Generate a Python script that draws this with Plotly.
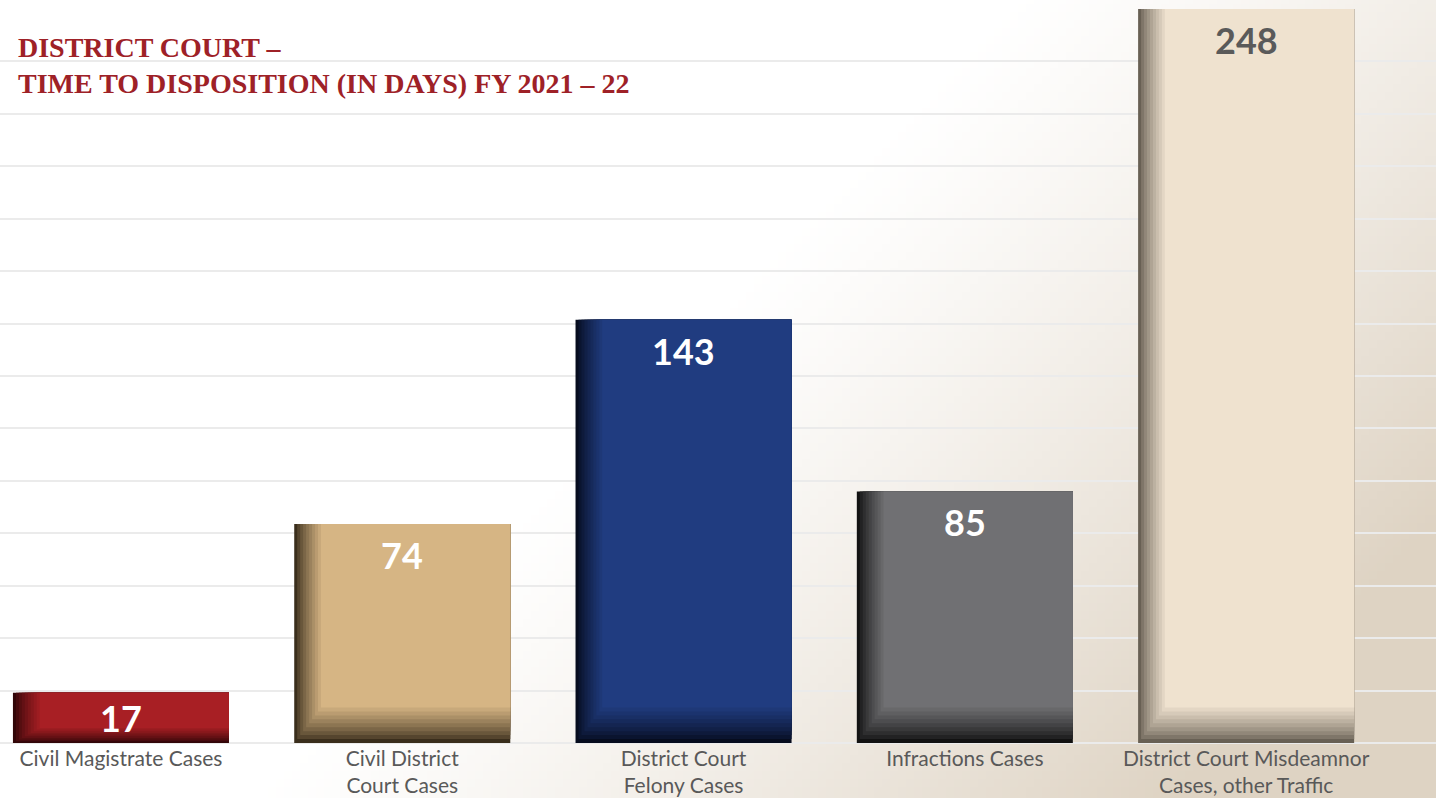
import zlib, struct, base64
import plotly.graph_objects as go

categories = ["Civil Magistrate Cases", "Civil District<br>Court Cases", "District Court<br>Felony Cases",
              "Infractions Cases", "District Court Misdeamnor<br>Cases, other Traffic"]
values = [17, 74, 143, 85, 248]
title_text = "DISTRICT COURT –<br>TIME TO DISPOSITION (IN DAYS) FY 2021 – 22"

shadow_colors = [(50, 6, 8), (58, 46, 28), (6, 12, 30), (18, 18, 18), (104, 96, 84)]
main_colors = [(168, 31, 36), (214, 181, 132), (32, 60, 128), (112, 112, 115), (239, 226, 207)]
text_colors = ["#ffffff", "#ffffff", "#ffffff", "#ffffff", "#5a5a5a"]

W, H = 1436, 798
MT, MB = 9, 55
PH = H - MT - MB
YMAX = 248
PXU = PH / YMAX


def make_png(w, h):
    rows = []
    end = (222, 211, 195)
    for j in range(h):
        row = bytearray([0])
        for i in range(w):
            u, v = i / (w - 1), j / (h - 1)
            t = (u * 0.85 + v * 0.45 - 0.6) / 0.55
            t = max(0.0, min(1.0, t))
            t = t ** 1.2
            for c in end:
                row.append(int(round(255 * (1 - t) + c * t)))
        rows.append(bytes(row))
    raw = b"".join(rows)

    def chunk(tag, data):
        return struct.pack(">I", len(data)) + tag + data + struct.pack(">I", zlib.crc32(tag + data) & 0xffffffff)

    png = b"\x89PNG\r\n\x1a\n" + chunk(b"IHDR", struct.pack(">IIBBBBB", w, h, 8, 2, 0, 0, 0)) \
        + chunk(b"IDAT", zlib.compress(raw, 9)) + chunk(b"IEND", b"")
    return "data:image/png;base64," + base64.b64encode(png).decode()


def rgb(c):
    return "rgb(%d,%d,%d)" % tuple(int(round(x)) for x in c)


bg = make_png(180, 100)

fig = go.Figure()
bw = 0.768
N = 10
for k in range(N):
    f = k / (N - 1)
    g = f ** 0.8
    cols = [rgb([s[i] + (m[i] - s[i]) * g for i in range(3)]) for s, m in zip(shadow_colors, main_colors)]
    lo = 0.095 * f
    bases = [min(12.0, v * 0.3) * f for v in values]
    fig.add_trace(go.Bar(x=categories, y=[v - b for v, b in zip(values, bases)], base=bases,
                         width=bw - lo, offset=-bw / 2 + lo,
                         marker=dict(color=cols, line=dict(width=0)), hoverinfo="skip"))

for c, v, tc in zip(categories, values, text_colors):
    fig.add_annotation(x=c, y=v, text=f"<b>{v}</b>", showarrow=False, yanchor="middle",
                       yshift=-min(31, v * PXU / 2),
                       font=dict(family="Lato", size=36, color=tc))

fig.add_annotation(xref="paper", yref="paper", x=16 / W, y=1 - (30 - MT) / PH, xanchor="left", yanchor="top",
                   text=f"<b>{title_text}</b>", showarrow=False, align="left",
                   font=dict(family="Liberation Serif", size=28, color="#9e2127"))

fig.add_layout_image(source=bg, xref="paper", yref="paper", x=0, y=1 + MT / PH, sizex=1, sizey=H / PH,
                     sizing="stretch", layer="below", xanchor="left", yanchor="top")

fig.update_layout(
    width=W, height=H, margin=dict(l=0, r=0, t=MT, b=MB),
    barmode="overlay", showlegend=False,
    paper_bgcolor="white", plot_bgcolor="rgba(0,0,0,0)",
    xaxis=dict(range=[-0.43, 4.675], showgrid=False, zeroline=False, showline=False, ticks="",
               ticklabelstandoff=1,
               tickfont=dict(family="Lato", size=21, color="#595959")),
    yaxis=dict(range=[0, YMAX], tick0=0, dtick=YMAX / 14, showticklabels=False, gridcolor="#ebebeb",
               gridwidth=2, zeroline=True, zerolinecolor="#ebebeb", zerolinewidth=2, showline=False),
)
fig.write_html("out.html", config={"displayModeBar": False},
               post_script="document.body.style.margin='0';document.body.style.overflow='hidden';")
